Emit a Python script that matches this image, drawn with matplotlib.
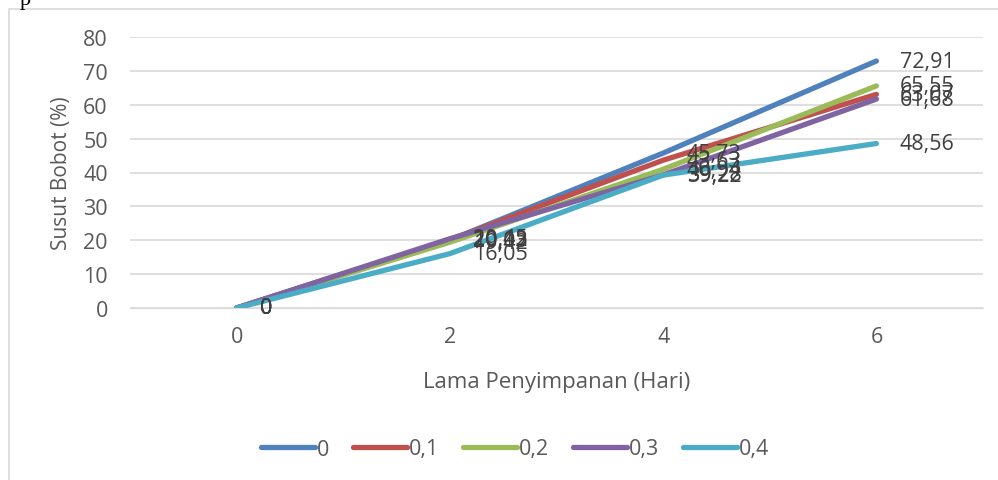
import matplotlib
matplotlib.use("Agg")
import matplotlib.pyplot as plt
from matplotlib.patches import Rectangle

plt.rcParams['font.family'] = ['Open Sans', 'DejaVu Sans']

# data
days = ['0', '2', '4', '6']
series_names = ['0', '0,1', '0,2', '0,3', '0,4']
s0 = [0, 20.03, 45.73, 72.91]
s1 = [0, 20.12, 43.63, 63.07]
s2 = [0, 19.42, 40.94, 65.55]
s3 = [0, 20.45, 39.28, 61.68]
s4 = [0, 16.05, 39.22, 48.56]
all_series = [s0, s1, s2, s3, s4]
colors = ['#4F81BD', '#C0504D', '#9BBB59', '#8064A2', '#4BACC6']

fig = plt.figure(figsize=(9.98, 4.81), dpi=100)
# outer chart border
fig.patches.append(Rectangle((9 / 998, -0.01), 1.0, 1 - 10 / 481 + 0.01,
                             transform=fig.transFigure, fill=False,
                             edgecolor='#D9D9D9', lw=1.2))
fig.text(20 / 998, 0.998, 'p', family='Liberation Serif', fontsize=16,
         va='center', ha='left', color='black')

ax = fig.add_axes([130 / 998, 1 - 309 / 481, (983 - 130) / 998, (309 - 38) / 481])
x = list(range(len(days)))
for name, vals, c in zip(series_names, all_series, colors):
    ax.plot(x, vals, color=c, lw=3.8, solid_capstyle='round', label=name)
    for xi, v in zip(x, vals):
        lab = ('%.2f' % v).replace('.', ',') if v != 0 else '0'
        ax.annotate(lab, (xi, v), xytext=(17, 0), textcoords='offset points',
                    va='center', ha='left', fontsize=15.5, color='#404040')

ax.set_xlim(-0.5, 3.5)
ax.set_ylim(0, 80)
ax.set_yticks(range(0, 81, 10))
ax.set_xticks(x)
ax.set_xticklabels(days)
ax.yaxis.grid(True, color='#D9D9D9', lw=1.2)
ax.set_axisbelow(True)
for s in ['top', 'right', 'left']:
    ax.spines[s].set_visible(False)
ax.spines['bottom'].set_color('#D9D9D9')
ax.tick_params(length=0, labelsize=15.5, labelcolor='#595959')
ax.tick_params(axis='y', pad=16)
ax.tick_params(axis='x', pad=13)
ax.set_xlabel('Lama Penyimpanan (Hari)', fontsize=16, color='#595959', labelpad=17)
ax.set_ylabel('Susut Bobot (%)', fontsize=15, color='#595959', labelpad=8)

fig.legend(loc='center', bbox_to_anchor=(515 / 998, 1 - 450 / 481), ncol=5,
           frameon=False, fontsize=15.5, labelcolor='#595959',
           handlelength=2.5, handletextpad=0.1, columnspacing=1.1)

fig.savefig('out.png', dpi=100)
